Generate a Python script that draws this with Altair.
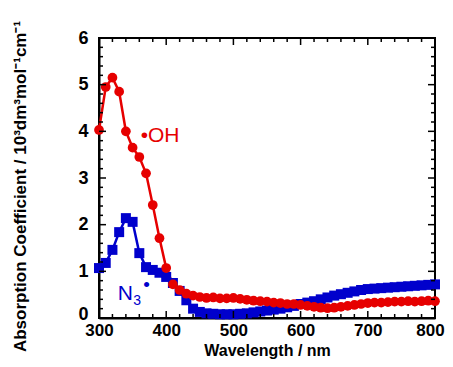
import altair as alt
import pandas as pd

wavelength = list(range(300, 801, 10))
oh = [4.03, 4.95, 5.15, 4.85, 4.00, 3.65, 3.45, 3.10, 2.42, 1.71,
      1.07, 0.72, 0.60, 0.52, 0.48, 0.45, 0.43, 0.44, 0.42, 0.42,
      0.43, 0.41, 0.39, 0.37, 0.36, 0.35, 0.33, 0.32, 0.30, 0.30,
      0.28, 0.26, 0.24, 0.22, 0.21, 0.22, 0.24, 0.26, 0.28, 0.30,
      0.32, 0.33, 0.33, 0.34, 0.35, 0.35, 0.36, 0.35, 0.36, 0.37, 0.36]
n3 = [1.07, 1.18, 1.46, 1.84, 2.14, 2.06, 1.39, 1.09, 1.03, 0.97,
      0.88, 0.75, 0.58, 0.38, 0.20, 0.13, 0.10, 0.09, 0.08, 0.08,
      0.08, 0.09, 0.10, 0.12, 0.14, 0.16, 0.18, 0.20, 0.23, 0.26,
      0.30, 0.33, 0.36, 0.40, 0.44, 0.48, 0.51, 0.54, 0.57, 0.60,
      0.62, 0.63, 0.64, 0.65, 0.66, 0.67, 0.68, 0.69, 0.70, 0.71, 0.72]

x_major = [300, 400, 500, 600, 700, 800]
x_minor = [w for w in range(320, 800, 20) if w % 100 != 0]
y_major = [0, 1, 2, 3, 4, 5, 6]
y_minor = [round(v / 5, 1) for v in range(1, 30) if v % 5 != 0]

label_text = ["•OH", "N", "3", "•"]
label_x = [362, 328, 351, 366]
label_y = [3.77, 0.39, 0.28, 0.58]
label_size = [21, 21, 14, 19]
label_color = ["OH", "N3", "N3", "N3"]

RED = "#e60000"
BLUE = "#0000cc"
FONT = "Liberation Sans"

xs = alt.Scale(domain=[300, 800], nice=False, zero=False)
ys = alt.Scale(domain=[0, 6], nice=False, zero=False)
x_axis = alt.Axis(values=x_major, title="Wavelength / nm", format="d",
                  labelPadding=4, labelFlush=False, labelFontSize=17,
                  labelOffset=alt.ExprRef("datum.value == 800 ? -5 : 0"),
                  titleBaseline="alphabetic", titleY=37, titleFontSize=16)
y_axis = alt.Axis(values=y_major, title="Absorption Coefficient / 10³dm³mol⁻¹cm⁻¹",
                  labelPadding=11, labelFlush=False, labelFontSize=18,
                  labelOffset=alt.ExprRef("datum.value == 0 ? -4 : 0"),
                  titlePadding=48, titleY=148, titleFontSize=17)
X = alt.X("x:Q", scale=xs, axis=x_axis)
Y = alt.Y("y:Q", scale=ys, axis=y_axis)
color_scale = alt.Scale(domain=["OH", "N3"], range=[RED, BLUE])

df_oh = pd.DataFrame({"x": wavelength, "y": oh})
df_n3 = pd.DataFrame({"x": wavelength, "y": n3})

oh_line = alt.Chart(df_oh).mark_line(color=RED, strokeWidth=2.5).encode(x=X, y=Y)
oh_pts = alt.Chart(df_oh).mark_point(color=RED, filled=True, opacity=1, size=95, shape="circle").encode(x=X, y=Y)
n3_line = alt.Chart(df_n3).mark_line(color=BLUE, strokeWidth=2.5).encode(x=X, y=Y)
n3_pts = alt.Chart(df_n3).mark_point(color=BLUE, filled=True, opacity=1, size=100, shape="square").encode(x=X, y=Y)

df_lab = pd.DataFrame({"x": label_x, "y": label_y, "t": label_text,
                       "s": label_size, "c": label_color})
labels = alt.Chart(df_lab).mark_text(align="left", baseline="alphabetic", font=FONT).encode(
    x=X, y=Y, text="t:N",
    size=alt.Size("s:Q", scale=None, legend=None),
    color=alt.Color("c:N", scale=color_scale, legend=None))

def xticks(vals, length):
    d = pd.DataFrame({"x": vals})
    bot = alt.Chart(d).mark_rule(color="black", strokeWidth=1.5).encode(
        x=X, y=alt.value(280), y2=alt.value(280 - length))
    top = alt.Chart(d).mark_rule(color="black", strokeWidth=1.5).encode(
        x=X, y=alt.value(0), y2=alt.value(length))
    return [bot, top]

def yticks(vals, length):
    d = pd.DataFrame({"y": vals})
    left = alt.Chart(d).mark_rule(color="black", strokeWidth=1.5).encode(
        y=Y, x=alt.value(0), x2=alt.value(length))
    right = alt.Chart(d).mark_rule(color="black", strokeWidth=1.5).encode(
        y=Y, x=alt.value(336), x2=alt.value(336 - length))
    return [left, right]

ticks = xticks(x_major, 7) + xticks(x_minor, 4) + yticks(y_major, 7) + yticks(y_minor, 4)

chart = alt.layer(oh_line, n3_line, n3_pts, oh_pts, labels, *ticks).properties(
    width=336, height=280,
    autosize=alt.AutoSizeParams(type="none"),
    padding={"left": 91, "top": 30, "right": 10, "bottom": 41},
).configure_view(stroke="black", strokeWidth=2).configure_axis(
    grid=False, ticks=False, tickSize=0, domainColor="black", domainWidth=2,
    labelFont=FONT, labelFontWeight="bold", labelColor="black",
    titleFont=FONT, titleFontWeight="bold", titleColor="black",
)

chart.save("out.html", embed_options={"renderer": "svg", "actions": False})
